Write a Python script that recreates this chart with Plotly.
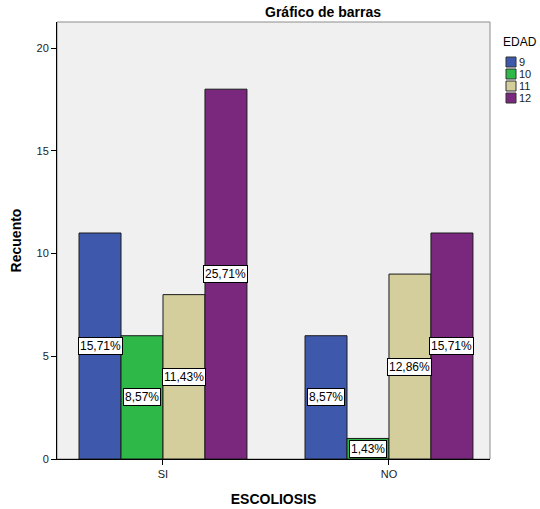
import plotly.graph_objects as go

# Recuento por ESCOLIOSIS y EDAD
categorias = ["SI", "NO"]
edades = ["9", "10", "11", "12"]
recuento = {
    "9": [11, 6],
    "10": [6, 1],
    "11": [8, 9],
    "12": [18, 11],
}
colores = {
    "9": "#3E58AC",
    "10": "#2EB848",
    "11": "#D3CE9B",
    "12": "#79287E",
}

total = sum(sum(v) for v in recuento.values())

FONT = "Liberation Sans, Arial, sans-serif"
W, H = 540, 509
M_L, M_R, M_T, M_B = 57, 50, 22, 50
BARGAP = 0.257
n = len(edades)
ancho = (1 - BARGAP) / n


def px_x(px):
    return (px - M_L) / (W - M_L - M_R)


def px_y(py):
    return (H - M_B - py) / (H - M_T - M_B)


fig = go.Figure()
for e in edades:
    fig.add_trace(go.Bar(
        x=categorias,
        y=recuento[e],
        name=e,
        marker=dict(color=colores[e], line=dict(color="#1a1a1a", width=1)),
    ))

# Etiquetas de porcentaje en el centro de cada barra
for i, e in enumerate(edades):
    for j, c in enumerate(categorias):
        v = recuento[e][j]
        pct = f"{100 * v / total:.2f}%".replace(".", ",")
        fig.add_annotation(
            x=j + (i - (n - 1) / 2) * ancho,
            y=v / 2,
            text=pct,
            showarrow=False,
            font=dict(family=FONT, size=12, color="black"),
            bgcolor="white",
            bordercolor="black",
            borderwidth=1,
            borderpad=1,
        )

# Borde gris del área de trazado
fig.add_shape(type="rect", xref="paper", yref="paper", x0=0, y0=0, x1=1, y1=1,
              line=dict(color="#8c8c8c", width=1), layer="below")

# Leyenda compacta: título y muestras de color
fig.add_annotation(xref="paper", yref="paper", x=px_x(501), y=px_y(42),
                   xanchor="left", yanchor="middle", showarrow=False,
                   text="EDAD", font=dict(family=FONT, size=12, color="black"))
for k, e in enumerate(edades):
    yc = 62 + 12 * k
    fig.add_shape(type="rect", xref="paper", yref="paper",
                  x0=px_x(506), x1=px_x(516), y0=px_y(yc + 5), y1=px_y(yc - 5),
                  fillcolor=colores[e], line=dict(color="#333", width=1))
    fig.add_annotation(xref="paper", yref="paper", x=px_x(517), y=px_y(yc),
                       xanchor="left", yanchor="middle", showarrow=False,
                       text=e, font=dict(family=FONT, size=11, color="#222"))

fig.update_layout(
    width=W,
    height=H,
    barmode="group",
    bargap=BARGAP,
    bargroupgap=0,
    showlegend=False,
    paper_bgcolor="white",
    plot_bgcolor="#F0F0F0",
    margin=dict(l=M_L, r=M_R, t=M_T, b=M_B, autoexpand=False),
    font=dict(family=FONT, size=11, color="#222"),
    title=dict(text="<b>Gráfico de barras</b>", x=323 / W, xanchor="center",
               y=1 - 12 / H, yanchor="middle",
               font=dict(family=FONT, size=14, color="black")),
    xaxis=dict(
        type="category",
        range=[-0.469, 1.447],
        showgrid=False,
        showline=True, linecolor="black", linewidth=1,
        ticks="outside", ticklen=5, tickcolor="black",
        tickfont=dict(family=FONT, size=11, color="#222"),
        title=dict(text="<b>ESCOLIOSIS</b>", font=dict(family=FONT, size=14, color="black"), standoff=14),
        zeroline=False,
    ),
    yaxis=dict(
        range=[0, 21.27],
        tickvals=[0, 5, 10, 15, 20],
        showgrid=False,
        showline=True, linecolor="black", linewidth=1,
        ticks="outside", ticklen=5, tickcolor="black",
        tickfont=dict(family=FONT, size=11, color="#222"),
        title=dict(text="<b>Recuento</b>", font=dict(family=FONT, size=14, color="black"), standoff=11),
        zeroline=False,
    ),
)

fig.write_html("out.html")
